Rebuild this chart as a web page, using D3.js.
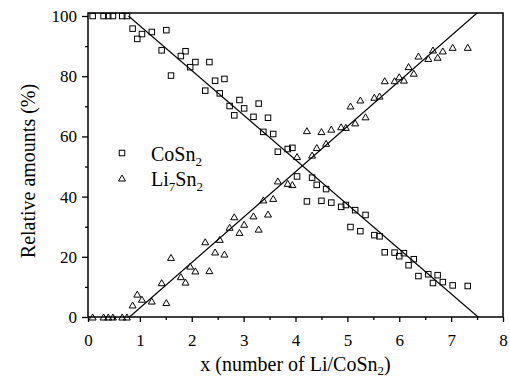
<!DOCTYPE html>
<html>
<head>
<meta charset="utf-8">
<script src="https://cdn.jsdelivr.net/npm/d3@7/dist/d3.min.js"></script>
<style>
  body { margin: 0; background: #fff; }
  svg text { font-family: "Liberation Serif", "Times New Roman", serif; }
</style>
</head>
<body>
<div id="chart"></div>
<script>
// x = number of Li per CoSn2, shared by both series
const xValues = [0.09, 0.30, 0.39, 0.48, 0.66, 0.75, 0.86, 0.95, 1.04, 1.23, 1.42, 1.51, 1.60, 1.79, 1.88, 1.97,
  2.07, 2.26, 2.34, 2.45, 2.54, 2.63, 2.73, 2.82, 2.92, 3.01, 3.19, 3.29, 3.38, 3.47, 3.57, 3.66, 3.85, 3.94,
  4.03, 4.22, 4.32, 4.41, 4.50, 4.59, 4.69, 4.88, 4.97, 5.06, 5.15, 5.25, 5.35, 5.52, 5.62, 5.72, 5.91,
  6.00, 6.09, 6.18, 6.28, 6.37, 6.56, 6.65, 6.74, 6.84, 7.03, 7.32];

const coSn2 = [100, 100, 100, 100, 100, 100, 95.8, 92.4, 94.0, 94.7, 88.6, 95.3, 80.2, 86.7, 88.3, 83.0,
  84.7, 75.2, 84.7, 78.5, 74.3, 79.1, 70.1, 67.0, 72.1, 69.3, 66.5, 70.9, 61.5, 66.2, 60.8, 54.9, 55.8, 56.2,
  46.7, 38.4, 46.3, 43.9, 38.6, 42.5, 38.0, 36.6, 37.2, 29.9, 35.5, 28.5, 33.9, 27.2, 26.8, 21.5, 21.4,
  20.2, 21.2, 17.2, 19.2, 13.6, 14.2, 11.3, 13.9, 11.6, 10.5, 10.3];

const li7Sn2 = [0, 0, 0, 0, 0, 0, 4.0, 7.6, 5.9, 5.3, 11.4, 4.8, 19.8, 13.4, 11.6, 16.9,
  15.3, 25.0, 15.4, 21.6, 25.8, 20.9, 29.8, 33.3, 28.1, 30.8, 33.6, 29.2, 38.9, 34.2, 39.4, 45.2, 44.4, 44.0,
  53.3, 61.9, 53.8, 56.3, 61.6, 57.7, 62.4, 63.2, 63.0, 70.1, 64.5, 72.1, 66.5, 73.0, 73.4, 78.5, 78.5,
  79.8, 78.7, 83.2, 81.0, 86.7, 85.9, 88.7, 86.3, 88.4, 89.6, 89.6];

// straight-line fits, end points
const fitCoSn2X = [0.78, 7.52];
const fitCoSn2Y = [100, 0];
const fitLi7Sn2X = [0.80, 7.50];
const fitLi7Sn2Y = [0, 101];

const xTicks = [0, 1, 2, 3, 4, 5, 6, 7, 8];
const yTicks = [0, 20, 40, 60, 80, 100];

const serif = '"Liberation Serif", "Times New Roman", serif';
const width = 510;
const height = 381;
const margin = { top: 13, right: 7, bottom: 64, left: 88 };
const innerWidth = width - margin.left - margin.right;
const innerHeight = height - margin.top - margin.bottom;

const svg = d3.select('#chart').append('svg')
  .attr('width', width)
  .attr('height', height)
  .attr('font-family', serif);

const g = svg.append('g')
  .attr('transform', `translate(${margin.left},${margin.top})`);

const xScale = d3.scaleLinear().domain([0, 8]).range([0, innerWidth]);
const yScale = d3.scaleLinear().domain([0, 101]).range([innerHeight, 0]);

// minor ticks first so major ones sit on top
const xMinor = g.append('g')
  .attr('transform', `translate(0,${innerHeight})`)
  .call(d3.axisBottom(xScale).tickValues(d3.range(0.5, 8, 1)).tickSize(3).tickFormat(''));
xMinor.select('.domain').remove();
xMinor.selectAll('text').remove();

const yMinor = g.append('g')
  .call(d3.axisLeft(yScale).tickValues(d3.range(10, 100, 20)).tickSize(3).tickFormat(''));
yMinor.select('.domain').remove();
yMinor.selectAll('text').remove();

const xAxisG = g.append('g')
  .attr('transform', `translate(0,${innerHeight})`)
  .call(d3.axisBottom(xScale).tickValues(xTicks).tickSize(5).tickPadding(12).tickFormat(d3.format('d')));
xAxisG.select('.domain').remove();

const yAxisG = g.append('g')
  .call(d3.axisLeft(yScale).tickValues(yTicks).tickSize(6).tickPadding(5).tickFormat(d3.format('d')));
yAxisG.select('.domain').remove();

[xAxisG, yAxisG].forEach(a => a.attr('font-family', serif).attr('font-size', 17));
svg.selectAll('.tick line').attr('stroke', '#000').attr('stroke-width', 1.3);
svg.selectAll('.tick text').attr('fill', '#000');

// frame
g.append('rect')
  .attr('x', 0)
  .attr('y', 0)
  .attr('width', innerWidth)
  .attr('height', innerHeight)
  .attr('fill', 'none')
  .attr('stroke', '#000')
  .attr('stroke-width', 1.5);

const line = d3.line()
  .x(d => xScale(d[0]))
  .y(d => yScale(d[1]));

g.append('path')
  .datum(d3.zip(fitCoSn2X, fitCoSn2Y))
  .attr('d', line)
  .attr('fill', 'none')
  .attr('stroke', '#000')
  .attr('stroke-width', 1.1);

g.append('path')
  .datum(d3.zip(fitLi7Sn2X, fitLi7Sn2Y))
  .attr('d', line)
  .attr('fill', 'none')
  .attr('stroke', '#000')
  .attr('stroke-width', 1.1);

const sq = 5.5;
const triW = 7;
const triH = 6;
const triPath = `M0,${-triH / 2}L${triW / 2},${triH / 2}L${-triW / 2},${triH / 2}Z`;

g.selectAll('rect.co').data(d3.zip(xValues, coSn2))
  .enter().append('rect')
  .attr('class', 'co')
  .attr('x', d => xScale(d[0]) - sq / 2)
  .attr('y', d => yScale(d[1]) - sq / 2)
  .attr('width', sq)
  .attr('height', sq)
  .attr('fill', 'none')
  .attr('stroke', '#000')
  .attr('stroke-width', 1);

g.selectAll('path.li').data(d3.zip(xValues, li7Sn2))
  .enter().append('path')
  .attr('class', 'li')
  .attr('d', triPath)
  .attr('transform', d => `translate(${xScale(d[0])},${yScale(d[1])})`)
  .attr('fill', 'none')
  .attr('stroke', '#000')
  .attr('stroke-width', 1);

// legend
const legend = svg.append('g').attr('font-size', 20);

legend.append('rect')
  .attr('x', 122 - sq / 2)
  .attr('y', 153 - sq / 2)
  .attr('width', sq)
  .attr('height', sq)
  .attr('fill', 'none')
  .attr('stroke', '#000');

legend.append('path')
  .attr('d', triPath)
  .attr('transform', 'translate(122,178)')
  .attr('fill', 'none')
  .attr('stroke', '#000');

const t1 = legend.append('text').attr('x', 151).attr('y', 161);
t1.append('tspan').text('CoSn');
t1.append('tspan').attr('dy', 5).attr('font-size', 13).text('2');

const t2 = legend.append('text').attr('x', 151).attr('y', 186);
t2.append('tspan').text('Li');
t2.append('tspan').attr('dy', 5).attr('font-size', 13).text('7');
t2.append('tspan').attr('dy', -5).text('Sn');
t2.append('tspan').attr('dy', 5).attr('font-size', 13).text('2');

// axis titles
const xTitle = svg.append('text')
  .attr('x', margin.left + innerWidth / 2)
  .attr('y', 371)
  .attr('text-anchor', 'middle')
  .attr('font-size', 20);
xTitle.append('tspan').text('x (number of Li/CoSn');
xTitle.append('tspan').attr('dy', 4).attr('font-size', 13).text('2');
xTitle.append('tspan').attr('dy', -4).text(')');

svg.append('text')
  .attr('transform', 'translate(35,171) rotate(-90)')
  .attr('text-anchor', 'middle')
  .attr('font-size', 20)
  .text('Relative amounts (%)');
</script>
</body>
</html>
